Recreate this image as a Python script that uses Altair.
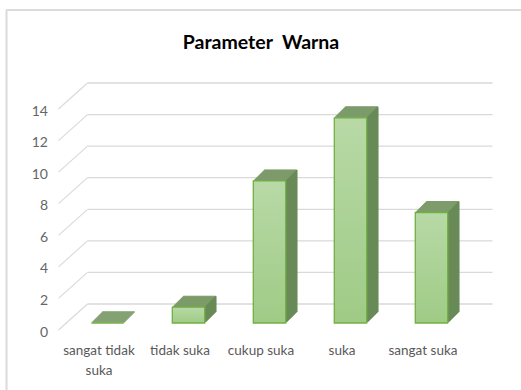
import altair as alt
import pandas as pd

categories = ["sangat tidak suka", "tidak suka", "cukup suka", "suka", "sangat suka"]
values = [0, 1, 9, 13, 7]
ticks = [0, 2, 4, 6, 8, 10, 12, 14]

FONT = "Lato, sans-serif"
bars = pd.DataFrame({"cat": categories, "val": values})
grid = pd.DataFrame({"v": ticks})

xs = alt.Scale(domain=categories, paddingInner=0.6, paddingOuter=0.3)
ys = alt.Scale(domain=[0, 14], nice=False)

X = alt.X("cat:N", scale=xs, sort=categories,
          axis=alt.Axis(title=None, domain=False, ticks=False, labelAngle=0, grid=False,
                        labelPadding=13, labelFontSize=13.5, labelColor="#595959",
                        labelFont=FONT, labelLineHeight=20,
                        labelExpr="datum.label == 'sangat tidak suka' ? ['sangat tidak', 'suka'] : datum.label"))
YAXIS = alt.Axis(title=None, domain=False, ticks=False, grid=False, values=ticks,
                 labelOverlap=False, labelFlush=False,
                 labelPadding=11, labelFontSize=14, labelColor="#666666",
                 labelFont=FONT, labelOffset=2)
Y = alt.Y("val:Q", scale=ys, axis=YAXIS)
YG = alt.Y("v:Q", scale=ys, axis=YAXIS)

DX, DY = 8.5, -7      # bar plane offset from floor front
GX, GY = 29, -26      # back wall offset
GRID = "#d9d9d9"
TOP_COL = "#7d9b6b"
SIDE_COL = "#688a58"

border = alt.Chart(grid).mark_rule(color="#dcdcdc", strokeWidth=1.2).encode(
    x=alt.value(-52), x2=alt.value(470), y=alt.value(-99))
border2 = alt.Chart(grid).mark_rule(color="#dcdcdc", strokeWidth=1.2).encode(
    x=alt.value(-52), y=alt.value(-99), y2=alt.value(290))

back = alt.Chart(grid).mark_rule(color=GRID, strokeWidth=1.3, yOffset=GY).encode(
    y=YG, x=alt.value(GX), x2=alt.value(434))
diag = alt.Chart(grid).mark_rule(color=GRID, strokeWidth=1.1, y2Offset=GY).encode(
    y=YG, y2=alt.Y2("v:Q"), x=alt.value(0), x2=alt.value(GX))

layers = [border, border2, back, diag]

base = alt.Chart(bars)
N = 11
for i in range(N, 0, -1):
    layers.append(base.mark_bar(fill=TOP_COL, stroke=TOP_COL, strokeWidth=1,
                                xOffset=DX + i, x2Offset=DX + i,
                                yOffset=DY - i, y2Offset=DY - i).encode(x=X, y=Y))
for i in range(1, N + 1):
    layers.append(base.mark_rule(color=SIDE_COL, strokeWidth=1.5,
                                 xOffset=DX + i, yOffset=DY - i, y2Offset=DY - i).encode(
        x=alt.X("cat:N", scale=xs, sort=categories, bandPosition=1), y=Y, y2=alt.datum(0)))

grad = alt.Gradient(gradient="linear",
                    stops=[alt.GradientStop(color="#b8d9a6", offset=0),
                           alt.GradientStop(color="#9fcb86", offset=1)],
                    x1=0, x2=0, y1=0, y2=1)
front = base.mark_bar(fill=grad, stroke="#72b043", strokeWidth=1.3,
                      xOffset=DX, x2Offset=DX, yOffset=DY, y2Offset=DY).encode(x=X, y=Y)
layers.append(front)

chart = alt.layer(*layers).properties(
    width=405, height=221,
    background="white",
    autosize=alt.AutoSizeParams(type="none"),
    padding={"left": 58.5, "top": 109, "right": 57.5, "bottom": 60},
    title=alt.TitleParams("Parameter\u00a0 Warna", fontSize=19.5, fontWeight="bold",
                          color="#000000", font="Lato, sans-serif", anchor="middle",
                          dy=48),
).configure_view(stroke="transparent", strokeWidth=0)

chart.save("out.html", embed_options={"renderer": "svg", "actions": False})
